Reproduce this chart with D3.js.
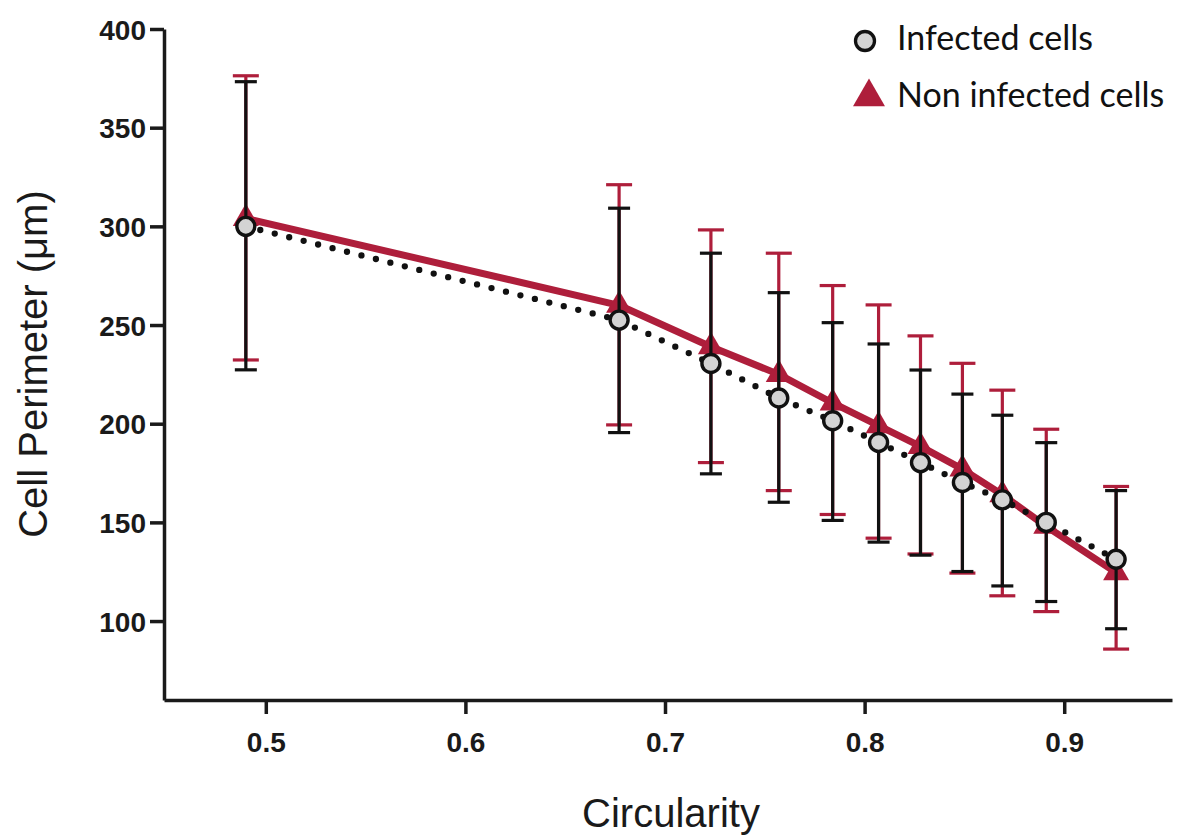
<!DOCTYPE html>
<html lang="en">
<head>
    <meta charset="UTF-8">
    <title>Cell perimeter vs circularity</title>
    <script src="https://d3js.org/d3.v7.min.js"></script>
    <style>
        html, body {
            margin: 0;
            background: #fff;
        }
        .axis path, .axis line {
            stroke: #1a1a1a;
            stroke-width: 3.5;
        }
    </style>
</head>
<body>
    <div id="vis"></div>

    <script>

        // data
        var circularity = [0.490, 0.677, 0.723, 0.757, 0.784, 0.807, 0.828, 0.849, 0.869, 0.891, 0.926];

        var infMean  = [300, 252.5, 230.5, 213, 201.5, 190.5, 180.3, 170.2, 161.4, 150, 131.3];
        var infUpper = [373.3, 309.2, 286.4, 266.4, 251.2, 240.4, 227.2, 215, 204.3, 190.4, 166.1];
        var infLower = [227.3, 195.5, 174.6, 160.2, 151, 140, 133.4, 125.1, 117.8, 109.9, 96.1];

        var nonMean  = [304, 260, 239, 225, 210.5, 199, 188.5, 177, 164, 148, 124.5];
        var nonUpper = [376.3, 321.1, 298.2, 286.4, 270, 260.2, 244.5, 230.6, 217, 197.2, 168.2];
        var nonLower = [232.3, 199.4, 180.3, 166.1, 154, 142, 134, 124.3, 112.8, 104.8, 85.8];

        var xTicks = [0.5, 0.6, 0.7, 0.8, 0.9];
        var yTicks = [100, 150, 200, 250, 300, 350, 400];

        var seriesNames = ["Infected cells", "Non infected cells"];

        var red = "#ae1e3b";
        var ink = "#111";

        var view_width = 1180, view_height = 836;
        var margin = {top: 29, left: 164, right: 8, bottom: 136};
        var width = view_width - margin.left - margin.right;
        var height = view_height - margin.top - margin.bottom;

        var svg = d3.select('#vis')
            .append('svg')
                .attr('width', view_width)
                .attr('height', view_height);

        var g = svg.append('g')
            .attr('transform', 'translate(' + margin.left + ',' + margin.top + ')');

        var x_scale = d3.scaleLinear()
            .domain([0.449, 0.954])
            .range([0, width]);

        var y_scale = d3.scaleLinear()
            .domain([60, 400])
            .range([height, 0]);

        var infData = circularity.map(function(c, i) {
            return {x: c, y: infMean[i], lo: infLower[i], hi: infUpper[i]};
        });
        var nonData = circularity.map(function(c, i) {
            return {x: c, y: nonMean[i], lo: nonLower[i], hi: nonUpper[i]};
        });

        // axes
        g.append('g')
            .attr('class', 'x axis')
            .attr('transform', 'translate(0,' + height + ')')
            .call(d3.axisBottom(x_scale)
                .tickValues(xTicks)
                .tickSize(14)
                .tickSizeOuter(0)
                .tickPadding(18)
                .tickFormat(d3.format('.1f')));

        g.append('g')
            .attr('class', 'y axis')
            .call(d3.axisLeft(y_scale)
                .tickValues(yTicks)
                .tickSize(14)
                .tickSizeOuter(0)
                .tickPadding(4)
                .tickFormat(d3.format('d')));

        g.selectAll('.axis .tick text')
            .style('font-family', '"Liberation Sans", Arial, sans-serif')
            .style('font-weight', 'bold')
            .style('font-size', '28px')
            .style('fill', '#1a1a1a');

        g.selectAll('.y.axis .tick text').attr('dy', '0.36em');

        var line = d3.line()
            .x(function(d) { return x_scale(d.x); })
            .y(function(d) { return y_scale(d.y); });

        function errorBars(data, colour, capW) {
            var eb = g.append('g').attr('stroke', colour).attr('stroke-width', 3.2);
            eb.selectAll('.stem')
                .data(data)
                .enter().append('line')
                    .attr('x1', function(d) { return x_scale(d.x); })
                    .attr('x2', function(d) { return x_scale(d.x); })
                    .attr('y1', function(d) { return y_scale(d.lo); })
                    .attr('y2', function(d) { return y_scale(d.hi); });
            ['lo', 'hi'].forEach(function(k) {
                eb.selectAll('.cap-' + k)
                    .data(data)
                    .enter().append('line')
                        .attr('x1', function(d) { return x_scale(d.x) - capW / 2; })
                        .attr('x2', function(d) { return x_scale(d.x) + capW / 2; })
                        .attr('y1', function(d) { return y_scale(d[k]); })
                        .attr('y2', function(d) { return y_scale(d[k]); });
            });
        }

        // non infected (red) underneath
        errorBars(nonData, red, 26);

        g.append('path')
            .datum(nonData)
            .attr('fill', 'none')
            .attr('stroke', red)
            .attr('stroke-width', 7)
            .attr('stroke-linejoin', 'round')
            .attr('d', line);

        g.selectAll('.tri')
            .data(nonData)
            .enter().append('path')
                .attr('fill', red)
                .attr('d', d3.symbol().type(d3.symbolTriangle).size(293))
                .attr('transform', function(d) {
                    return 'translate(' + x_scale(d.x) + ',' + y_scale(d.y) + ')';
                });

        // infected (black) on top
        errorBars(infData, ink, 22);

        g.append('path')
            .datum(infData)
            .attr('fill', 'none')
            .attr('stroke', ink)
            .attr('stroke-width', 6.3)
            .attr('stroke-linecap', 'round')
            .attr('stroke-dasharray', '0 14.9')
            .attr('d', line);

        g.selectAll('.dot')
            .data(infData)
            .enter().append('circle')
                .attr('cx', function(d) { return x_scale(d.x); })
                .attr('cy', function(d) { return y_scale(d.y); })
                .attr('r', 9)
                .attr('fill', '#d3d3d3')
                .attr('stroke', ink)
                .attr('stroke-width', 3.4);

        // axis titles
        svg.append('text')
            .attr('x', 671)
            .attr('y', 827)
            .attr('text-anchor', 'middle')
            .style('font-family', '"Liberation Sans", Arial, sans-serif')
            .style('font-size', '40px')
            .style('fill', '#1a1a1a')
            .text('Circularity');

        svg.append('text')
            .attr('transform', 'translate(47,364) rotate(-90)')
            .attr('text-anchor', 'middle')
            .style('font-family', '"Liberation Sans", Arial, sans-serif')
            .style('font-size', '40px')
            .style('fill', '#1a1a1a')
            .text('Cell Perimeter (\u03bcm)');

        // legend
        var legend = svg.append('g');
        legend.append('circle')
            .attr('cx', 865).attr('cy', 41).attr('r', 9.5)
            .attr('fill', '#d3d3d3').attr('stroke', ink).attr('stroke-width', 3.3);
        legend.append('path')
            .attr('d', d3.symbol().type(d3.symbolTriangle).size(443))
            .attr('transform', 'translate(869,97)')
            .attr('fill', red);
        legend.selectAll('.lab')
            .data(seriesNames)
            .enter().append('text')
                .attr('x', 897)
                .attr('y', function(d, i) { return 50 + i * 57; })
                .style('font-family', 'Lato, sans-serif')
                .style('font-size', '34px')
                .style('fill', '#111')
                .text(function(d) { return d; });

    </script>
</body>
</html>
